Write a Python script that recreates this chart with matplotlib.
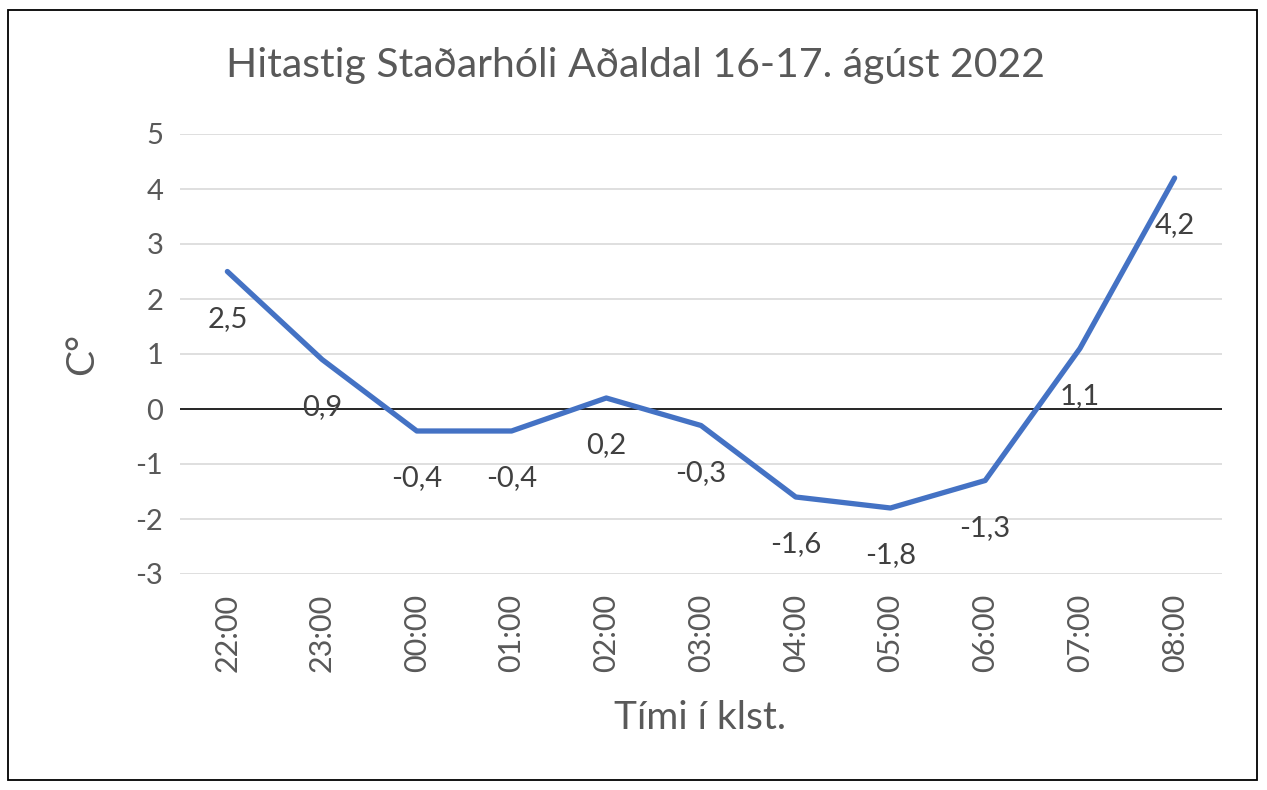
import matplotlib
matplotlib.use("Agg")
import matplotlib.pyplot as plt
from matplotlib.patches import Rectangle

times = ["22:00", "23:00", "00:00", "01:00", "02:00", "03:00", "04:00", "05:00", "06:00", "07:00", "08:00"]
temps = [2.5, 0.9, -0.4, -0.4, 0.2, -0.3, -1.6, -1.8, -1.3, 1.1, 4.2]
yticks = [5, 4, 3, 2, 1, 0, -1, -2, -3]
title = "Hitastig Staðarhóli Aðaldal 16-17. ágúst 2022"
xlabel = "Tími í klst."
ylabel = "C°"

plt.rcParams['font.family'] = ['Lato', 'DejaVu Sans']
gray = "#595959"

fig = plt.figure(figsize=(12.67, 7.90), dpi=100)
W, H = 1267, 790
ax = fig.add_axes([180 / W, 1 - 574 / H, (1222 - 180) / W, (574 - 134) / H])

xs = [i + 0.5 for i in range(len(times))]
for y in yticks:
    if y == 0:
        ax.axhline(y, color="black", lw=1.2, zorder=1)
    else:
        ax.axhline(y, color="#D9D9D9", lw=1.2, zorder=0)
ax.plot(xs, temps, color="#4472C4", lw=3.8, zorder=3, solid_capstyle="round", solid_joinstyle="round")

for x, v in zip(xs, temps):
    lab = f"{v:.1f}".replace(".", ",")
    ax.annotate(lab, (x, v), xytext=(0, -34), textcoords="offset points",
                ha="center", va="center", fontsize=21, color="#404040", zorder=4)

ax.set_xlim(0, len(times))
ax.set_ylim(-3, 5)
ax.set_yticks(yticks)
ax.set_yticklabels([str(y) for y in yticks], fontsize=21, color=gray)
ax.set_xticks(xs)
ax.set_xticklabels(times, rotation=90, fontsize=22, color=gray)
ax.tick_params(axis="y", length=0, pad=12)
ax.tick_params(axis="x", length=0, pad=14)
for s in ax.spines.values():
    s.set_visible(False)

fig.text(635 / W, 1 - 66 / H, title, ha="center", va="center", fontsize=29.5, color=gray)
fig.text(82 / W, 1 - 354 / H, ylabel, ha="center", va="center", rotation=90, fontsize=28, color=gray)
fig.text(700 / W, 1 - 718 / H, xlabel, ha="center", va="center", fontsize=28, color=gray)

fig.patches.append(Rectangle((8 / W, 1 - 780 / H), (1257 - 8) / W, (780 - 10) / H,
                             transform=fig.transFigure, fill=False, edgecolor="black", lw=1.3))

fig.savefig("out.png", dpi=100)
